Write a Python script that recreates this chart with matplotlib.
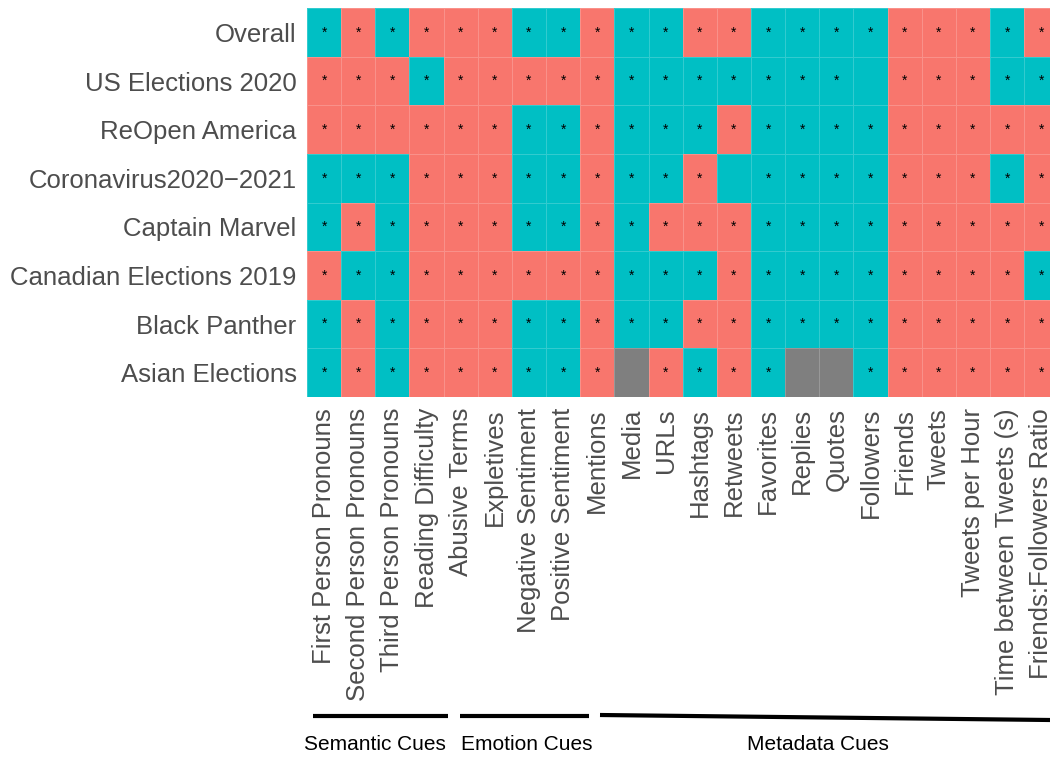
import matplotlib
matplotlib.use("Agg")
import matplotlib.pyplot as plt
import numpy as np
from matplotlib.colors import ListedColormap
from matplotlib.lines import Line2D

# ---------------- data ----------------
datasets = ["Overall", "US Elections 2020", "ReOpen America", "Coronavirus2020\u22122021",
            "Captain Marvel", "Canadian Elections 2019", "Black Panther", "Asian Elections"]

features = ["First Person Pronouns", "Second Person Pronouns", "Third Person Pronouns",
            "Reading Difficulty", "Abusive Terms", "Expletives", "Negative Sentiment",
            "Positive Sentiment", "Mentions", "Media", "URLs", "Hashtags", "Retweets",
            "Favorites", "Replies", "Quotes", "Followers", "Friends", "Tweets",
            "Tweets per Hour", "Time between Tweets (s)", "Friends:Followers Ratio"]

# T = teal (higher), S = salmon (lower), G = not available
direction = {
    "Overall":                 "TSTSSSTTSTTSSTTTTSSSTS",
    "US Elections 2020":       "SSSTSSSSSTTTTTTTTSSSTT",
    "ReOpen America":          "SSSSSSTTSTTTSTTTTSSSSS",
    "Coronavirus2020\u22122021": "TTTSSSTTSTTSTTTTTSSSTS",
    "Captain Marvel":          "TSTSSSTTSTSSSTTTTSSSSS",
    "Canadian Elections 2019": "STTSSSSSSTTTSTTTTSSSST",
    "Black Panther":           "TSTSSSTTSTTSSTTTTSSSSS",
    "Asian Elections":         "TSTSSSTTSGSTSTGGTSSSSS",
}

# cells that are not significant (no asterisk)
not_significant = [("US Elections 2020", "Followers"),
                   ("Coronavirus2020\u22122021", "Retweets")]

groups = ["Semantic Cues", "Emotion Cues", "Metadata Cues"]

# ---------------- styling ----------------
TEAL = "#00BFC4"
SALMON = "#F8766D"
GREY = "#7F7F7F"
plt.rcParams["font.family"] = ["Liberation Sans", "DejaVu Sans"]

code_map = {"S": 0, "T": 1, "G": 2}
M = np.array([[code_map[c] for c in direction[d]] for d in datasets])

W, H = 1050, 758
fig = plt.figure(figsize=(W / 100, H / 100), dpi=100)
ax = fig.add_axes([307 / W, 1 - 397 / H, 751.3 / W, 388.7 / H])

cmap = ListedColormap([SALMON, TEAL, GREY])
ax.pcolormesh(np.arange(len(features) + 1) - 0.5, np.arange(len(datasets) + 1) - 0.5, M,
              cmap=cmap, vmin=-0.5, vmax=2.5,
              edgecolors=(1, 1, 1, 0.2), linewidth=0.6)

for i, d in enumerate(datasets):
    for j, f in enumerate(features):
        if direction[d][j] == "G" or (d, f) in not_significant:
            continue
        ax.text(j, i, "*", ha="center", va="center", fontsize=10, color="black")

ax.set_xlim(-0.5, len(features) - 0.5)
ax.set_ylim(len(datasets) - 0.5, -0.5)
ax.set_xticks(range(len(features)))
ax.set_xticklabels(features, rotation=90, fontsize=18.5, color="#4D4D4D")
ax.set_yticks(range(len(datasets)))
ax.set_yticklabels(datasets, fontsize=18.5, color="#4D4D4D")
ax.tick_params(axis="both", length=0)
ax.tick_params(axis="x", pad=8)
ax.tick_params(axis="y", pad=7.5)
for s in ax.spines.values():
    s.set_visible(False)

# ---------------- group brackets ----------------
def fx(px):
    return px / W

def fy(py):
    return 1 - py / H

segs = [((312.7, 716), (448.3, 716)),
        ((460, 715.7), (589.3, 715.7)),
        ((600, 715), (1050, 720))]
label_x = [374.5, 527, 818]
for (p0, p1), name, lx in zip(segs, groups, label_x):
    fig.add_artist(Line2D([fx(p0[0]), fx(p1[0])], [fy(p0[1]), fy(p1[1])],
                          color="black", linewidth=3, solid_capstyle="butt"))
    fig.text(fx(lx), fy(744), name, ha="center", va="center", fontsize=15, color="black")

fig.savefig("out.png", dpi=100)
